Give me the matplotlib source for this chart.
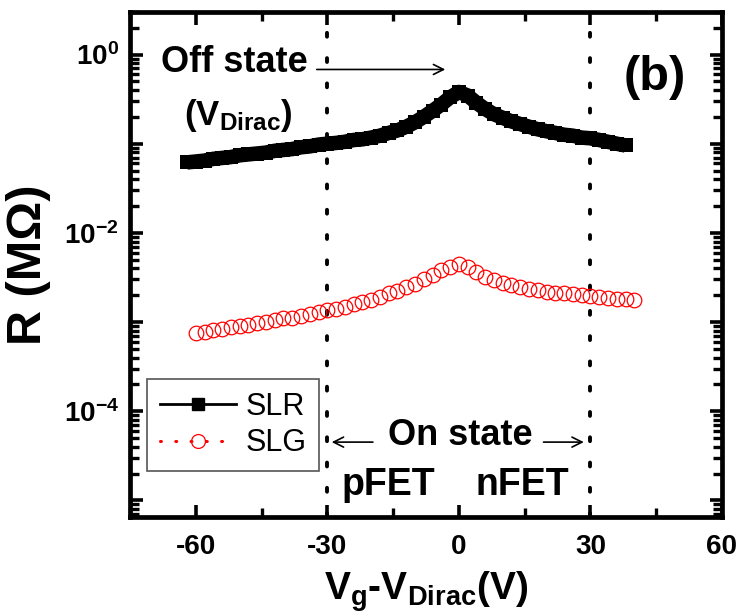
import numpy as np
import matplotlib
matplotlib.use('Agg')
import matplotlib.pyplot as plt
from matplotlib.lines import Line2D
from matplotlib.ticker import FixedLocator, FuncFormatter, MultipleLocator, NullFormatter

# gate voltage relative to Dirac point (V)
vg_slr = [-62, -60, -58, -56, -54, -52, -50, -48, -46, -44, -42, -40, -38, -36, -34,
          -32, -30, -28, -26, -24, -22, -20, -18, -16, -14, -12, -10, -8, -6, -4,
          -2, 0, 2, 4, 6, 8, 10, 12, 14, 16, 18, 20, 22, 24, 26, 28, 30, 32, 34, 36, 38]
# resistance (MOhm)
r_slr = [0.0617, 0.0631, 0.0646, 0.0676, 0.0692, 0.0708, 0.0741, 0.0759, 0.0776, 0.0794,
         0.0832, 0.0851, 0.0871, 0.0912, 0.0933, 0.0977, 0.100, 0.102, 0.105, 0.110,
         0.112, 0.117, 0.123, 0.132, 0.141, 0.155, 0.174, 0.200, 0.234, 0.275,
         0.331, 0.380, 0.347, 0.288, 0.245, 0.214, 0.195, 0.178, 0.166, 0.155,
         0.145, 0.138, 0.132, 0.126, 0.123, 0.117, 0.115, 0.110, 0.105, 0.100, 0.0955]

vg_slg = [-60, -58, -56, -54, -52, -50, -48, -46, -44, -42, -40, -38, -36, -34, -32,
          -30, -28, -26, -24, -22, -20, -18, -16, -14, -12, -10, -8, -6, -4, -2,
          0, 2, 4, 6, 8, 10, 12, 14, 16, 18, 20, 22, 24, 26, 28, 30, 32, 34, 36, 38, 40]
r_slg = [7.59e-4, 7.76e-4, 8.13e-4, 8.32e-4, 8.71e-4, 8.91e-4, 9.33e-4, 9.77e-4, 1.00e-3, 1.05e-3,
         1.10e-3, 1.12e-3, 1.17e-3, 1.23e-3, 1.29e-3, 1.35e-3, 1.41e-3, 1.48e-3, 1.58e-3, 1.66e-3,
         1.78e-3, 1.91e-3, 2.09e-3, 2.24e-3, 2.45e-3, 2.69e-3, 3.02e-3, 3.39e-3, 3.80e-3, 4.17e-3,
         4.47e-3, 4.17e-3, 3.63e-3, 3.24e-3, 2.95e-3, 2.75e-3, 2.57e-3, 2.45e-3, 2.34e-3, 2.29e-3,
         2.19e-3, 2.14e-3, 2.09e-3, 2.04e-3, 2.00e-3, 1.95e-3, 1.91e-3, 1.86e-3, 1.82e-3, 1.82e-3,
         1.78e-3]

series_names = ['SLR', 'SLG']
on_state_bounds = [-30, 30]
x_ticks = [-60, -30, 0, 30, 60]

plt.rcParams['font.family'] = ['Liberation Sans', 'DejaVu Sans']
plt.rcParams['font.weight'] = 'bold'
plt.rcParams['axes.labelweight'] = 'bold'
plt.rcParams['mathtext.default'] = 'regular'
plt.rcParams['axes.unicode_minus'] = False

fig = plt.figure(figsize=(7.44, 6.15), dpi=100)
ax = fig.add_axes([0.1747, 0.1593, 0.7957, 0.8212])

# the SLR squares sit so close together they read as one thick band
ax.plot(vg_slr, r_slr, color='black', lw=10.5, solid_capstyle='butt', solid_joinstyle='round',
        marker='s', ms=10.5, mfc='black', mec='black', mew=0, zorder=3)
ax.plot(vg_slg, r_slg, ls='none', marker='o', ms=10.5, mfc='none', mec='red', mew=0.9, zorder=3)

# dotted boundaries of the on state
for v in on_state_bounds:
    ax.axvline(v, color='black', lw=2.8, ls=(0, (1.0, 5.5)), dash_capstyle='round', zorder=2)

ax.set_yscale('log')
ax.set_xlim(-75, 60)
ax.set_ylim(6.5e-6, 3.0)

ax.set_xticks(x_ticks)
ax.xaxis.set_minor_locator(MultipleLocator(15))
decades = [10.0 ** e for e in range(-6, 1)]
ax.yaxis.set_major_locator(FixedLocator(decades))
ax.yaxis.set_minor_locator(FixedLocator([m * d for d in decades for m in range(2, 10)]))
ax.yaxis.set_minor_formatter(NullFormatter())


def log_fmt(y, pos):
    e = int(round(np.log10(y)))
    return '$10^{%d}$' % e if e % 2 == 0 else ''


ax.yaxis.set_major_formatter(FuncFormatter(log_fmt))

ax.tick_params(which='both', direction='in', top=True, right=True, labelsize=20)
ax.tick_params(which='major', length=9, width=2.6)
ax.tick_params(which='minor', length=6.5, width=2.4)
ax.tick_params(axis='x', pad=12)
ax.tick_params(axis='y', pad=8)
for s in ax.spines.values():
    s.set_linewidth(3.4)

ax.set_xlabel('$V_g$-$V_{Dirac}$(V)', fontsize=28, labelpad=7)
ax.set_ylabel('R (M\u03a9)', fontsize=35, labelpad=9)

handles = [
    Line2D([], [], color='black', lw=2, marker='s', ms=9, mfc='black', mec='black'),
    Line2D([], [], color='red', lw=2.2, ls=(0, (0.3, 4.7)), dash_capstyle='round',
           marker='o', ms=10, mfc='none', mec='red', mew=0.9),
]
leg = ax.legend(handles, series_names, loc='lower left', bbox_to_anchor=(0.029, 0.091),
                frameon=True, fancybox=False, edgecolor='#555555', framealpha=1,
                prop={'weight': 'normal', 'size': 22}, handlelength=2.5,
                handletextpad=0.3, labelspacing=0.2, borderpad=0.42, borderaxespad=0)
leg.get_frame().set_linewidth(1.2)

arrow = dict(arrowstyle='->', lw=1.2, color='black', shrinkA=0, shrinkB=0, mutation_scale=18)
ax.annotate('', xy=(-3.1, 0.68), xytext=(-32.4, 0.68), arrowprops=arrow)
ax.annotate('', xy=(-29, 4.5e-5), xytext=(-19.6, 4.5e-5), arrowprops=arrow)
ax.annotate('', xy=(28.5, 4.5e-5), xytext=(19.3, 4.5e-5), arrowprops=arrow)

ax.text(-67.9, 0.645, 'Off state', fontsize=26, va='baseline')
ax.text(-62.6, 0.163, '($V_{Dirac}$)', fontsize=25, va='baseline')
ax.text(37.6, 0.40, '(b)', fontsize=35, va='baseline')
ax.text(-16.2, 4.17e-5, 'On state', fontsize=26, va='baseline')
ax.text(-26.7, 1.14e-5, 'pFET', fontsize=27, va='baseline')
ax.text(3.7, 1.14e-5, 'nFET', fontsize=27, va='baseline')

fig.savefig('out.png', dpi=100)
